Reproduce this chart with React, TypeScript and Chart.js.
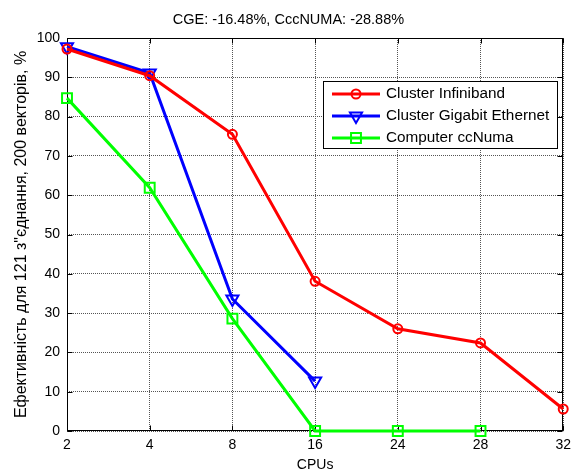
import React, { useEffect, useRef } from 'react';
import { Chart, registerables } from 'chart.js';
import { drawPoint } from 'chart.js/helpers';

Chart.register(...registerables);

const cpuLabels = ['2', '4', '8', '16', '24', '28', '32'];
const infinibandValues = [97.2, 90.4, 75.5, 38.1, 26.0, 22.4, 5.6];
const gigabitValues = [97.8, 91.1, 33.6, 12.7, null, null, null];
const ccNumaValues = [84.7, 61.9, 28.6, 0, 0, 0, null];
const seriesNames = ['Cluster Infiniband', 'Cluster Gigabit Ethernet', 'Computer ccNuma'];
const seriesColors = ['#ff0000', '#0000ff', '#00ff00'];
const chartTitle = 'CGE: -16.48%, CccNUMA: -28.88%';
const xAxisTitle = 'CPUs';
const yAxisTitle = 'Ефективність для 121 з"єднання, 200 векторів, %';
const yMin = 0;
const yMax = 100;
const yStep = 10;

const FONT = '"Liberation Sans", Arial, sans-serif';

const pointStyles = [
  { pointStyle: 'circle', rotation: 0, radius: 4.5 },
  { pointStyle: 'triangle', rotation: 180, radius: 7 },
  { pointStyle: 'rect', rotation: 0, radius: 7 },
];

const titlePlugin = {
  id: 'matlabTitle',
  afterDraw(chart: any) {
    const ctx = chart.ctx;
    ctx.save();
    ctx.font = `14.5px ${FONT}`;
    ctx.fillStyle = '#000';
    ctx.textAlign = 'center';
    ctx.textBaseline = 'middle';
    ctx.fillText(chartTitle, chart.width / 2, 19.5);
    ctx.restore();
  },
};

const framePlugin = {
  id: 'matlabFrame',
  beforeDatasetsDraw(chart: any) {
    const ctx = chart.ctx;
    const { left, right, top, bottom } = chart.chartArea;
    const xs = chart.scales.x;
    const ys = chart.scales.y;
    ctx.save();
    ctx.strokeStyle = '#000';
    ctx.lineWidth = 1;
    const L = Math.round(left) + 0.5;
    const R = Math.round(right) - 0.5;
    const T = Math.round(top) + 0.5;
    const B = Math.round(bottom) - 0.5;
    ctx.strokeRect(L, T, R - L, B - T);
    const tl = 5;
    ctx.beginPath();
    xs.ticks.forEach((_: any, i: number) => {
      const x = Math.round(xs.getPixelForTick(i)) + 0.5;
      ctx.moveTo(x, B);
      ctx.lineTo(x, B - tl);
      ctx.moveTo(x, T);
      ctx.lineTo(x, T + tl);
    });
    ys.ticks.forEach((_: any, i: number) => {
      const y = Math.round(ys.getPixelForTick(i)) + 0.5;
      ctx.moveTo(L, y);
      ctx.lineTo(L + tl, y);
      ctx.moveTo(R, y);
      ctx.lineTo(R - tl, y);
    });
    ctx.stroke();
    ctx.restore();
  },
};

const legendPlugin = {
  id: 'matlabLegend',
  afterDraw(chart: any) {
    const ctx = chart.ctx;
    const bx = 323.5;
    const by = 81.5;
    const bw = 234;
    const bh = 67;
    ctx.save();
    ctx.fillStyle = '#fff';
    ctx.fillRect(bx, by, bw, bh);
    ctx.strokeStyle = '#000';
    ctx.lineWidth = 1;
    ctx.strokeRect(bx, by, bw, bh);
    ctx.font = `15.3px ${FONT}`;
    ctx.textAlign = 'left';
    ctx.textBaseline = 'middle';
    seriesNames.forEach((name, i) => {
      const y = 94 + i * 22;
      ctx.strokeStyle = seriesColors[i];
      ctx.lineWidth = 3;
      ctx.beginPath();
      ctx.moveTo(332, y);
      ctx.lineTo(380, y);
      ctx.stroke();
      ctx.lineWidth = 2;
      ctx.fillStyle = 'rgba(0,0,0,0)';
      drawPoint(ctx, { ...pointStyles[i], borderWidth: 2 } as any, 356, y);
      ctx.fillStyle = '#000';
      ctx.fillText(name, 386, y);
    });
    ctx.restore();
  },
};

export default function App() {
  const canvasRef = useRef<HTMLCanvasElement | null>(null);

  useEffect(() => {
    document.body.style.margin = '0';
    const canvas = canvasRef.current;
    if (!canvas) return;
    const valueSets = [infinibandValues, gigabitValues, ccNumaValues];
    const chart = new Chart(canvas, {
      type: 'line',
      data: {
        labels: cpuLabels,
        datasets: seriesNames.map((name, i) => ({
          label: name,
          data: valueSets[i],
          borderColor: seriesColors[i],
          backgroundColor: 'rgba(0,0,0,0)',
          borderWidth: 3,
          pointStyle: pointStyles[i].pointStyle as any,
          pointRotation: pointStyles[i].rotation,
          pointRadius: pointStyles[i].radius,
          pointBorderWidth: 2,
          pointBorderColor: seriesColors[i],
          pointBackgroundColor: 'rgba(0,0,0,0)',
          tension: 0,
          spanGaps: false,
          clip: false as any,
        })),
      },
      options: {
        responsive: false,
        animation: false,
        devicePixelRatio: 1,
        layout: { padding: { top: 38, right: 11, bottom: 0, left: 0 } },
        plugins: {
          legend: { display: false },
          title: { display: false },
          tooltip: { enabled: false },
        },
        scales: {
          x: {
            type: 'category',
            offset: false,
            grid: { color: '#555', lineWidth: 1, drawTicks: false },
            border: { display: false, dash: [1, 1] },
            ticks: {
              color: '#000',
              padding: 6,
              maxRotation: 0,
              autoSkip: false,
              font: { family: FONT, size: 14 },
            },
            title: {
              display: true,
              text: xAxisTitle,
              color: '#000',
              font: { family: FONT, size: 14 },
              padding: { top: 0, bottom: 0 },
            },
            afterFit(scale: any) {
              scale.height = 43;
            },
          },
          y: {
            min: yMin,
            max: yMax,
            grid: { color: '#555', lineWidth: 1, drawTicks: false },
            border: { display: false, dash: [1, 1] },
            ticks: {
              stepSize: yStep,
              color: '#000',
              padding: 7,
              font: { family: FONT, size: 14 },
            },
            title: {
              display: true,
              text: yAxisTitle,
              color: '#000',
              font: { family: FONT, size: 16 },
              padding: { top: 11.5, bottom: 0 },
            },
            afterFit(scale: any) {
              scale.width = 67;
            },
          },
        },
      },
      plugins: [framePlugin, titlePlugin, legendPlugin],
    });
    return () => chart.destroy();
  }, []);

  return (
    <div style={{ width: 577, height: 474 }}>
      <canvas ref={canvasRef} width={577} height={474} />
    </div>
  );
}
